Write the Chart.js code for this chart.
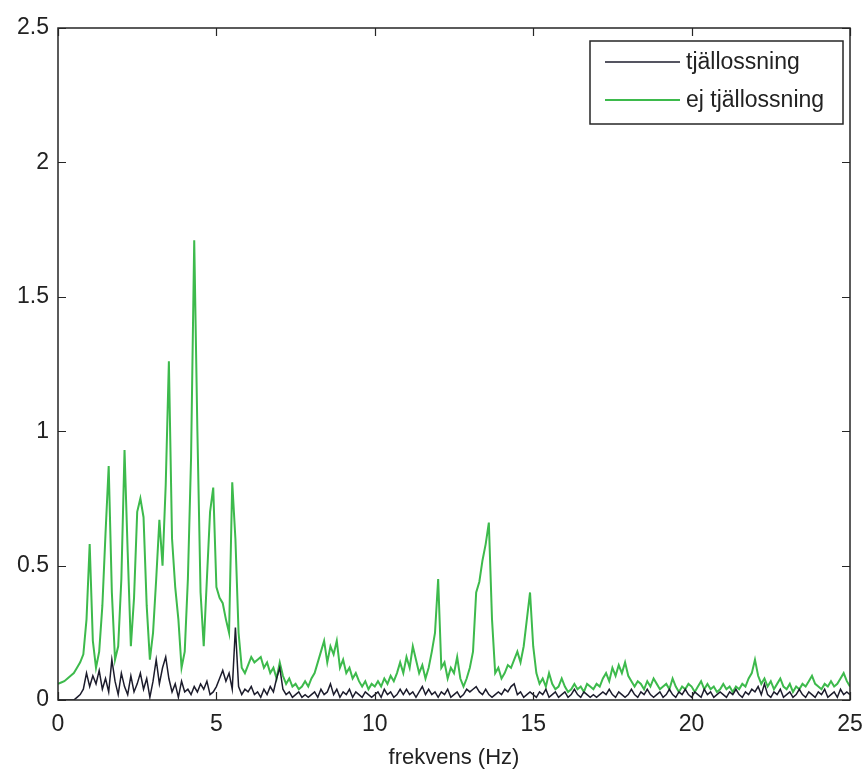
<!DOCTYPE html>
<html><head><meta charset="utf-8">
<script src="https://cdn.jsdelivr.net/npm/chart.js@4"></script>
<style>html,body{margin:0;padding:0;background:#fff;}#wrap{width:865px;height:771px;}</style>
</head><body><div id="wrap"><canvas id="c" width="865" height="771"></canvas></div>
<script>
const frequencies = [
0,0.1,0.2,0.3,0.4,0.5,0.6,0.7,0.8,0.9,
1,1.1,1.2,1.3,1.4,1.5,1.6,1.7,1.8,1.9,
2,2.1,2.2,2.3,2.4,2.5,2.6,2.7,2.8,2.9,
3,3.1,3.2,3.3,3.4,3.5,3.6,3.7,3.8,3.9,
4,4.1,4.2,4.3,4.4,4.5,4.6,4.7,4.8,4.9,
5,5.1,5.2,5.3,5.4,5.5,5.6,5.7,5.8,5.9,
6,6.1,6.2,6.3,6.4,6.5,6.6,6.7,6.8,6.9,
7,7.1,7.2,7.3,7.4,7.5,7.6,7.7,7.8,7.9,
8,8.1,8.2,8.3,8.4,8.5,8.6,8.7,8.8,8.9,
9,9.1,9.2,9.3,9.4,9.5,9.6,9.7,9.8,9.9,
10,10.1,10.2,10.3,10.4,10.5,10.6,10.7,10.8,10.9,
11,11.1,11.2,11.3,11.4,11.5,11.6,11.7,11.8,11.9,
12,12.1,12.2,12.3,12.4,12.5,12.6,12.7,12.8,12.9,
13,13.1,13.2,13.3,13.4,13.5,13.6,13.7,13.8,13.9,
14,14.1,14.2,14.3,14.4,14.5,14.6,14.7,14.8,14.9,
15,15.1,15.2,15.3,15.4,15.5,15.6,15.7,15.8,15.9,
16,16.1,16.2,16.3,16.4,16.5,16.6,16.7,16.8,16.9,
17,17.1,17.2,17.3,17.4,17.5,17.6,17.7,17.8,17.9,
18,18.1,18.2,18.3,18.4,18.5,18.6,18.7,18.8,18.9,
19,19.1,19.2,19.3,19.4,19.5,19.6,19.7,19.8,19.9,
20,20.1,20.2,20.3,20.4,20.5,20.6,20.7,20.8,20.9,
21,21.1,21.2,21.3,21.4,21.5,21.6,21.7,21.8,21.9,
22,22.1,22.2,22.3,22.4,22.5,22.6,22.7,22.8,22.9,
23,23.1,23.2,23.3,23.4,23.5,23.6,23.7,23.8,23.9,
24,24.1,24.2,24.3,24.4,24.5,24.6,24.7,24.8,24.9,
25];

const tjallossning = [
0,0,0,0,0,0,0.01,0.02,0.04,0.10,
0.05,0.09,0.06,0.11,0.04,0.08,0.03,0.15,0.07,0.02,
0.10,0.05,0.02,0.09,0.03,0.06,0.10,0.04,0.08,0.01,
0.07,0.15,0.06,0.12,0.16,0.08,0.03,0.06,0.01,0.07,
0.03,0.04,0.02,0.05,0.03,0.06,0.04,0.07,0.02,0.03,
0.05,0.08,0.11,0.07,0.10,0.04,0.27,0.05,0.02,0.04,
0.03,0.05,0.02,0.03,0.01,0.04,0.02,0.05,0.03,0.08,
0.12,0.04,0.02,0.03,0.01,0.02,0.03,0.01,0.02,0.01,
0.02,0.03,0.01,0.04,0.02,0.03,0.06,0.02,0.04,0.01,
0.03,0.02,0.04,0.01,0.03,0.02,0.01,0.03,0.02,0.01,
0.02,0.03,0.01,0.04,0.02,0.03,0.01,0.02,0.04,0.02,
0.04,0.02,0.03,0.01,0.03,0.05,0.02,0.04,0.02,0.03,
0.01,0.03,0.02,0.04,0.01,0.02,0.03,0.01,0.02,0.04,
0.03,0.04,0.05,0.03,0.02,0.04,0.02,0.01,0.02,0.03,
0.02,0.04,0.03,0.05,0.06,0.02,0.03,0.01,0.02,0.03,
0.02,0.01,0.03,0.02,0.04,0.01,0.02,0.03,0.01,0.02,
0.03,0.01,0.02,0.04,0.02,0.01,0.03,0.02,0.01,0.02,
0.01,0.02,0.03,0.02,0.04,0.02,0.01,0.03,0.02,0.01,
0.02,0.04,0.02,0.01,0.03,0.02,0.04,0.02,0.01,0.02,
0.03,0.01,0.02,0.04,0.02,0.01,0.03,0.02,0.04,0.02,
0.01,0.03,0.02,0.01,0.04,0.02,0.03,0.01,0.02,0.03,
0.02,0.01,0.03,0.02,0.04,0.02,0.01,0.03,0.02,0.04,
0.03,0.05,0.02,0.06,0.02,0.01,0.03,0.02,0.04,0.01,
0.02,0.03,0.01,0.02,0.04,0.02,0.01,0.03,0.02,0.01,
0.03,0.02,0.04,0.01,0.02,0.03,0.01,0.04,0.02,0.03,
0.02];

const ejTjallossning = [
0.06,0.065,0.07,0.08,0.09,0.10,0.12,0.14,0.17,0.30,
0.58,0.22,0.12,0.18,0.35,0.62,0.87,0.40,0.15,0.20,
0.45,0.93,0.55,0.20,0.38,0.70,0.75,0.68,0.35,0.15,
0.25,0.45,0.67,0.50,0.80,1.26,0.60,0.42,0.30,0.12,
0.18,0.45,0.90,1.71,1.00,0.40,0.20,0.45,0.70,0.79,
0.42,0.38,0.36,0.30,0.25,0.81,0.60,0.25,0.12,0.10,
0.13,0.16,0.14,0.15,0.16,0.12,0.14,0.10,0.12,0.08,
0.14,0.09,0.06,0.08,0.05,0.06,0.04,0.05,0.07,0.05,
0.08,0.10,0.14,0.18,0.22,0.14,0.20,0.17,0.22,0.12,
0.15,0.10,0.12,0.08,0.10,0.07,0.05,0.07,0.04,0.06,
0.05,0.07,0.05,0.08,0.06,0.09,0.07,0.10,0.14,0.10,
0.16,0.12,0.20,0.15,0.10,0.13,0.08,0.12,0.18,0.25,
0.45,0.12,0.14,0.08,0.12,0.10,0.16,0.08,0.05,0.08,
0.12,0.18,0.40,0.44,0.52,0.58,0.66,0.30,0.10,0.12,
0.08,0.10,0.13,0.12,0.15,0.18,0.14,0.20,0.30,0.40,
0.20,0.10,0.06,0.08,0.05,0.10,0.06,0.04,0.05,0.08,
0.05,0.03,0.04,0.06,0.04,0.05,0.03,0.06,0.05,0.04,
0.06,0.05,0.08,0.10,0.07,0.12,0.09,0.13,0.10,0.14,
0.09,0.07,0.05,0.07,0.06,0.04,0.07,0.05,0.08,0.06,
0.04,0.05,0.06,0.04,0.08,0.05,0.03,0.05,0.04,0.06,
0.05,0.03,0.05,0.07,0.04,0.06,0.04,0.05,0.03,0.04,
0.06,0.04,0.05,0.03,0.05,0.04,0.06,0.05,0.08,0.10,
0.15,0.09,0.06,0.08,0.05,0.07,0.04,0.06,0.08,0.05,
0.04,0.06,0.03,0.05,0.04,0.06,0.05,0.07,0.09,0.06,
0.05,0.04,0.06,0.05,0.07,0.05,0.06,0.08,0.10,0.07,
0.05];

const xTicks = [0, 5, 10, 15, 20, 25];
const yTicks = [0, 0.5, 1, 1.5, 2, 2.5];
const seriesLabels = ['tjällossning', 'ej tjällossning'];
const xAxisTitle = 'frekvens (Hz)';

const FONT = '"Liberation Sans", Arial, sans-serif';
const AXIS_COLOR = '#262626';

const framePlugin = {
  id: 'frame',
  afterDatasetsDraw(chart) {
    const ctx = chart.ctx, a = chart.chartArea;
    const xs = chart.scales.x, ys = chart.scales.y;
    ctx.save();
    ctx.strokeStyle = AXIS_COLOR;
    ctx.lineWidth = 1.5;
    ctx.strokeRect(a.left, a.top, a.right - a.left, a.bottom - a.top);
    const tl = 8;
    ctx.beginPath();
    xTicks.forEach(v => {
      const px = Math.round(xs.getPixelForValue(v)) + 0.5;
      ctx.moveTo(px, a.bottom); ctx.lineTo(px, a.bottom - tl);
      ctx.moveTo(px, a.top); ctx.lineTo(px, a.top + tl);
    });
    yTicks.forEach(v => {
      const py = Math.round(ys.getPixelForValue(v)) + 0.5;
      ctx.moveTo(a.left, py); ctx.lineTo(a.left + tl, py);
      ctx.moveTo(a.right, py); ctx.lineTo(a.right - tl, py);
    });
    ctx.lineWidth = 1.2;
    ctx.stroke();

    // legend box inside the plot, top-right
    const ds = chart.data.datasets;
    ctx.font = '23px ' + FONT;
    const boxRight = a.right - 7, boxTop = a.top + 13;
    const boxW = 253, boxH = 83;
    const boxLeft = boxRight - boxW;
    ctx.fillStyle = '#fff';
    ctx.fillRect(boxLeft, boxTop, boxW, boxH);
    ctx.strokeStyle = AXIS_COLOR;
    ctx.lineWidth = 1.5;
    ctx.strokeRect(boxLeft, boxTop, boxW, boxH);
    ds.forEach((d, i) => {
      const y = boxTop + 21 + i * 38;
      ctx.beginPath();
      ctx.strokeStyle = d.borderColor;
      ctx.lineWidth = d.borderWidth;
      ctx.moveTo(boxLeft + 15, y); ctx.lineTo(boxLeft + 90, y);
      ctx.stroke();
      ctx.fillStyle = '#222';
      ctx.textBaseline = 'middle';
      ctx.textAlign = 'left';
      ctx.fillText(d.label, boxLeft + 96, y + 1);
    });
    ctx.restore();
  }
};

new Chart(document.getElementById('c'), {
  type: 'line',
  data: {
    datasets: [
      {
        label: seriesLabels[0],
        data: frequencies.map((f, i) => ({ x: f, y: tjallossning[i] })),
        borderColor: '#1c1c2c',
        borderWidth: 1.5,
        pointRadius: 0,
        tension: 0,
        fill: false
      },
      {
        label: seriesLabels[1],
        data: frequencies.map((f, i) => ({ x: f, y: ejTjallossning[i] })),
        borderColor: '#3dba4c',
        borderWidth: 2,
        pointRadius: 0,
        tension: 0,
        fill: false
      }
    ]
  },
  options: {
    responsive: false,
    animation: false,
    devicePixelRatio: 1,
    layout: { padding: { top: 28, right: 15, left: 0, bottom: 0 } },
    plugins: { legend: { display: false }, tooltip: { enabled: false } },
    scales: {
      x: {
        type: 'linear',
        min: 0, max: 25,
        afterBuildTicks: s => { s.ticks = xTicks.map(v => ({ value: v })); },
        afterFit: s => { s.height = 71; s.paddingLeft = 0; s.paddingRight = 0; },
        grid: { display: false, drawTicks: false },
        border: { display: false },
        ticks: { font: { family: FONT, size: 23 }, color: '#222', padding: 11, maxRotation: 0,
                 callback: v => String(v) },
        title: { display: true, text: xAxisTitle, font: { family: FONT, size: 22 }, color: '#222',
                 padding: { top: 0, bottom: 0 } }
      },
      y: {
        type: 'linear',
        min: 0, max: 2.5,
        afterBuildTicks: s => { s.ticks = yTicks.map(v => ({ value: v })); },
        afterFit: s => { s.width = 58; s.paddingTop = 0; s.paddingBottom = 0; },
        grid: { display: false, drawTicks: false },
        border: { display: false },
        ticks: { font: { family: FONT, size: 23 }, color: '#222', padding: 9,
                 callback: v => String(v) }
      }
    }
  },
  plugins: [framePlugin]
});
</script>
</body></html>
